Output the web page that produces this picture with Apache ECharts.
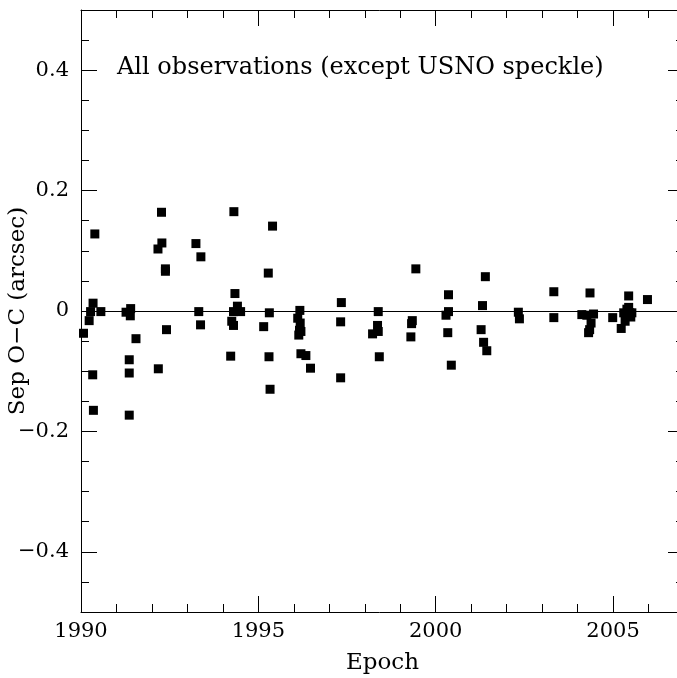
<!DOCTYPE html>
<html>
<head>
<meta charset="utf-8">
<script src="https://cdn.jsdelivr.net/npm/echarts@6/dist/echarts.min.js"></script>
<style>html,body{margin:0;padding:0;background:#fff;}#c{width:677px;height:678px;}</style>
</head>
<body>
<div id="c"></div>
<script>
// Epoch (years) and Sep O-C residuals (arcsec)
const epochs = [
  1990.07, 1990.23, 1990.27, 1990.34, 1990.39, 1990.56, 1990.33, 1990.35,
  1991.27, 1991.39, 1991.40, 1991.55, 1991.36, 1991.36, 1991.36,
  1992.17, 1992.27, 1992.28, 1992.38, 1992.38, 1992.41, 1992.18,
  1993.24, 1993.38, 1993.32, 1993.37,
  1994.31, 1994.34, 1994.41, 1994.30, 1994.50, 1994.25, 1994.30, 1994.22,
  1995.40, 1995.28, 1995.31, 1995.15, 1995.30, 1995.33,
  1996.17, 1996.11, 1996.18, 1996.16, 1996.14, 1996.20, 1996.20, 1996.34, 1996.47,
  1997.34, 1997.32, 1997.32,
  1998.38, 1998.36, 1998.38, 1998.22, 1998.41,
  1999.44, 1999.34, 1999.32, 1999.30,
  2000.36, 2000.36, 2000.29, 2000.34, 2000.44,
  2001.40, 2001.32, 2001.28, 2001.35, 2001.44,
  2002.33, 2002.36,
  2003.33, 2003.33,
  2004.35, 2004.12, 2004.26, 2004.45, 2004.38, 2004.34, 2004.31,
  2004.99,
  2005.44, 2005.39, 2005.30, 2005.47, 2005.53, 2005.39, 2005.34, 2005.23, 2005.44, 2005.50,
  2005.97
];
const sepOC = [
  -0.037, -0.016, -0.001, 0.013, 0.128, -0.001, -0.106, -0.165,
  -0.002, -0.008, 0.004, -0.046, -0.081, -0.103, -0.173,
  0.103, 0.164, 0.113, 0.070, 0.066, -0.031, -0.096,
  0.112, 0.090, -0.001, -0.023,
  0.165, 0.029, 0.008, -0.001, -0.001, -0.017, -0.024, -0.075,
  0.141, 0.063, -0.003, -0.026, -0.076, -0.130,
  0.001, -0.012, -0.020, -0.032, -0.040, -0.034, -0.071, -0.074, -0.095,
  0.014, -0.018, -0.111,
  -0.001, -0.024, -0.034, -0.038, -0.076,
  0.070, -0.016, -0.021, -0.043,
  0.027, -0.001, -0.007, -0.036, -0.090,
  0.057, 0.009, -0.031, -0.052, -0.066,
  -0.002, -0.013,
  0.032, -0.011,
  0.030, -0.006, -0.007, -0.005, -0.020, -0.031, -0.036,
  -0.011,
  0.025, 0.003, -0.003, -0.003, -0.003, -0.009, -0.017, -0.029, 0.006, -0.010,
  0.019
];
const xMajorTicks = [1990, 1995, 2000, 2005];
const yMajorTicks = [-0.4, -0.2, 0, 0.2, 0.4];
const titleText = 'All observations (except USNO speckle)';
const xName = 'Epoch';
const yName = 'Sep O\u2212C (arcsec)';

const FONT = 'DejaVu Serif';
const points = epochs.map((e, i) => [e, sepOC[i]]);
const lineStyle = { color: '#000', width: 1 };

function xAxisDef(pos, isMinor, showLabel) {
  return {
    type: 'value', position: pos, min: 1990, max: 2007,
    interval: isMinor ? 1 : 5,
    axisLine: { show: !isMinor, onZero: false, lineStyle },
    axisTick: { show: true, inside: true, length: isMinor ? 8 : 16, lineStyle },
    axisLabel: {
      show: showLabel, color: '#000', fontFamily: FONT, fontSize: 21, margin: 9,
      formatter: v => (xMajorTicks.indexOf(v) >= 0 ? String(v) : '')
    },
    splitLine: { show: false },
    name: showLabel ? xName : '', nameLocation: 'middle', nameGap: 40, nameMoveOverlap: false,
    nameTextStyle: { color: '#000', fontFamily: FONT, fontSize: 23 }
  };
}
function yAxisDef(pos, isMinor, showLabel) {
  const a = {
    type: 'value', position: pos, min: -0.5, max: 0.5,
    axisLine: { show: !isMinor, onZero: false, lineStyle },
    axisTick: { show: true, inside: true, length: isMinor ? 8 : 16, lineStyle },
    axisLabel: {
      show: showLabel, color: '#000', fontFamily: FONT, fontSize: 21, margin: 12,
      formatter: v => (v === 0 ? '0' : (v < 0 ? '\u2212' : '') + Math.abs(v).toFixed(1))
    },
    splitLine: { show: false },
    name: showLabel ? yName : '', nameLocation: 'middle', nameGap: 51, nameRotate: 90,
    nameMoveOverlap: false,
    nameTextStyle: { color: '#000', fontFamily: FONT, fontSize: 23 }
  };
  if (isMinor) { a.interval = 0.05; }
  else { a.axisTick.customValues = yMajorTicks; a.axisLabel.customValues = yMajorTicks; }
  return a;
}

const chart = echarts.init(document.getElementById('c'), null, { renderer: 'canvas' });
chart.setOption({
  animation: false,
  backgroundColor: '#fff',
  grid: { left: 81, top: 10, width: 603, height: 602, containLabel: false, outerBoundsMode: 'none' },
  xAxis: [
    xAxisDef('bottom', false, true),
    xAxisDef('bottom', true, false),
    xAxisDef('top', false, false),
    xAxisDef('top', true, false)
  ],
  yAxis: [
    yAxisDef('left', false, true),
    yAxisDef('left', true, false),
    yAxisDef('right', false, false),
    yAxisDef('right', true, false)
  ],
  graphic: [{
    type: 'text', left: 117, top: 56,
    style: { text: titleText, fill: '#000', font: '24px "' + FONT + '"' }
  }],
  series: [{
    type: 'scatter', xAxisIndex: 0, yAxisIndex: 0,
    symbol: 'rect', symbolSize: 9,
    itemStyle: { color: '#000', opacity: 1 },
    data: points,
    markLine: {
      silent: true, symbol: ['none', 'none'], label: { show: false },
      lineStyle: { color: '#000', width: 1, type: 'solid' },
      data: [{ yAxis: 0 }]
    }
  }]
});
</script>
</body>
</html>
